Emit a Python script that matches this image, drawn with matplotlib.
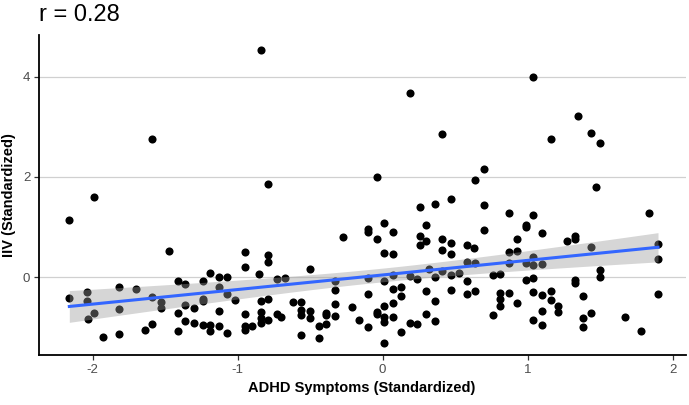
import numpy as np
import matplotlib
matplotlib.use("Agg")
import matplotlib.pyplot as plt

plt.rcParams['font.family'] = ['Liberation Sans', 'DejaVu Sans']
plt.rcParams['axes.unicode_minus'] = False

# ADHD symptoms (x) vs IIV (y), both standardized
adhd = [
    -2.16, -1.99, -1.47, -0.95, -0.95, -2.16, -2.04, -2.04, -2.03, -1.99,
    -1.93, -1.82, -1.82, -1.82, -1.70, -1.64, -1.59, -1.59, -1.53, -1.53,
    -1.41, -1.41, -1.41, -1.36, -1.36, -1.36, -1.30, -1.30, -1.24, -1.24,
    -1.24, -1.24, -1.19, -1.19, -1.19, -1.13, -1.13, -1.13, -1.13, -1.07,
    -1.07, -1.07, -1.02, -0.95, -0.95, -0.95, -0.90, -0.85, -1.59,
    -0.79, -0.79, -0.79, -0.73, -0.67, -0.50, -0.84, -0.79, -0.84, -0.84,
    -0.84, -0.79, -0.73, -0.70, -0.62, -0.56, -0.56, -0.56, -0.56, -0.50,
    -0.50, -0.44, -0.44, -0.39, -0.39, -0.39, -0.33, -0.33, -0.33, -0.33,
    -0.27, -0.21, -0.16, -0.10, -0.10, -0.10, -0.10, -0.10, -0.04, -0.04,
    -0.04, -0.04, 0.01, 0.01, 0.01, 0.01, 0.01, 0.01, 0.01, 0.07,
    0.07, 0.07, 0.07, 0.07, 0.07, 0.13, 0.13, 0.13, 0.19, 0.19,
    0.24, 0.24, 0.26, 0.26, 0.26, 0.30, 0.30, 0.30, 0.30, 0.32,
    0.36, 0.36, 0.36, 0.36, 0.41, 0.41, 0.41, 0.47, 0.47, 0.47,
    0.47, 0.47, 0.53, 0.58, 0.58, 0.58, 0.58,
    -0.84, 1.04, 0.19, 0.41, 1.35, 1.16, 1.44, 1.50,
    1.47, 1.84, 0.70, 0.64, 0.70, 0.70, 0.87, 1.04, 0.99, 0.99,
    1.10, 0.93, 0.87, 0.93, 0.63, 0.64, 0.87, 0.99, 1.04, 1.04,
    1.10, 1.27, 1.33, 1.33, 1.44, 1.90, 1.90, 0.76, 0.81, 0.99,
    1.04, 1.50, 1.50, 1.33, 1.33, 0.64, 0.81, 0.81, 0.81, 0.87,
    0.93, 0.76, 1.04, 1.10, 1.16, 1.16, 1.21, 1.21, 1.10, 1.04,
    1.10, 1.38, 1.38, 1.38, 1.44, 1.67, 1.78, 1.90,
]
iiv = [
    1.14, 1.61, 0.53, 0.51, 0.20, -0.41, -0.30, -0.48, -0.84, -0.71,
    -1.19, -0.19, -0.63, -1.13, -0.23, -1.05, -0.93, -0.39, -0.49, -0.61,
    -0.08, -0.71, -1.07, -0.13, -0.55, -0.87, -0.62, -0.91, -0.07, -0.43,
    -0.47, -0.96, 0.09, -0.96, -1.08, 0.00, -0.19, -0.68, -0.97, 0.00,
    -0.34, -1.11, -0.45, -0.74, -0.97, -1.06, -0.97, 0.07, 2.76,
    1.85, 0.45, 0.31, -0.03, -0.01, 0.17, -0.47, -0.43, -0.69, -0.81,
    -0.91, -0.86, -0.73, -0.79, -0.50, -0.49, -0.65, -0.76, -1.15, -0.67,
    -0.81, -0.97, -1.21, -0.71, -0.75, -0.94, -0.08, -0.25, -0.53, -0.77,
    0.81, -0.59, -0.85, 0.96, 0.90, -0.01, -0.33, -1.00, 1.99, 0.77,
    -0.69, -0.73, 1.08, 0.48, -0.07, -0.58, -0.79, -0.89, -1.31, 0.90,
    0.47, 0.04, -0.23, -0.52, -0.79, -0.19, -0.37, -1.09, 0.03, -0.92,
    -0.04, -0.94, 1.41, 0.83, 0.65, 1.05, 0.73, -0.27, -0.74, 0.16,
    1.46, 0.00, -0.48, -0.88, 0.77, 0.54, 0.13, 1.57, 0.68, 0.47,
    0.05, -0.25, 0.09, 0.65, 0.30, -0.07, -0.33,
    4.54, 4.00, 3.68, 2.85, 3.21, 2.75, 2.87, 2.68,
    1.79, 1.29, 2.16, 1.94, 1.45, 0.94, 1.29, 1.25, 1.05, 1.01,
    0.89, 0.77, 0.51, 0.53, 0.59, 0.28, 0.28, 0.28, 0.41, 0.25,
    0.27, 0.72, 0.82, 0.77, 0.61, 0.67, 0.37, 0.04, 0.06, -0.05,
    -0.01, 0.15, 0.01, -0.06, -0.11, -0.27, -0.31, -0.43, -0.58, -0.31,
    -0.52, -0.76, -0.29, -0.36, -0.27, -0.46, -0.58, -0.69, -0.68, -0.86,
    -0.96, -0.38, -0.81, -0.99, -0.71, -0.80, -1.07, -0.33,
]

x = np.array(adhd)
y = np.array(iiv)

# linear fit + 95% confidence band (like geom_smooth(method = "lm"))
n = len(x)
b1, b0 = np.polyfit(x, y, 1)
xs = np.linspace(x.min(), x.max(), 100)
ys = b0 + b1 * xs
resid = y - (b0 + b1 * x)
s = np.sqrt(np.sum(resid ** 2) / (n - 2))
se = s * np.sqrt(1 / n + (xs - x.mean()) ** 2 / np.sum((x - x.mean()) ** 2))
tq = 1.972

fig = plt.figure(figsize=(6.89, 4.05), dpi=100)
ax = fig.add_axes([0.056, 0.123, 0.939, 0.791])

ax.scatter(x, y, s=34, color='black', linewidths=0, zorder=2)
ax.fill_between(xs, ys - tq * se, ys + tq * se, color='#999999', alpha=0.4,
                linewidth=0, zorder=3)
ax.plot(xs, ys, color='#3366FF', lw=2.2, zorder=4)

ax.set_xlim(-2.372, 2.09)
ax.set_ylim(-1.56, 4.84)
ax.set_xticks([-2, -1, 0, 1, 2])
ax.set_yticks([0, 2, 4])
ax.yaxis.grid(True, color='#D0D0D0', lw=0.9, zorder=0)
ax.set_axisbelow(True)

for side in ['top', 'right']:
    ax.spines[side].set_visible(False)
for side in ['left', 'bottom']:
    ax.spines[side].set_linewidth(1.3)
ax.tick_params(length=3.5, width=0.9, color='#333333', labelcolor='#4D4D4D',
               labelsize=9.5, pad=2.5)

ax.set_xlabel('ADHD Symptoms (Standardized)', fontsize=10.5, fontweight='bold',
              labelpad=4)
ax.set_ylabel('IIV (Standardized)', fontsize=10.5, fontweight='bold', va='center')
ax.yaxis.set_label_coords(-0.045, 0.5)
fig.text(0.057, 0.962, 'r = 0.28', fontsize=17, ha='left', va='center')

fig.savefig('out.png', dpi=100)
